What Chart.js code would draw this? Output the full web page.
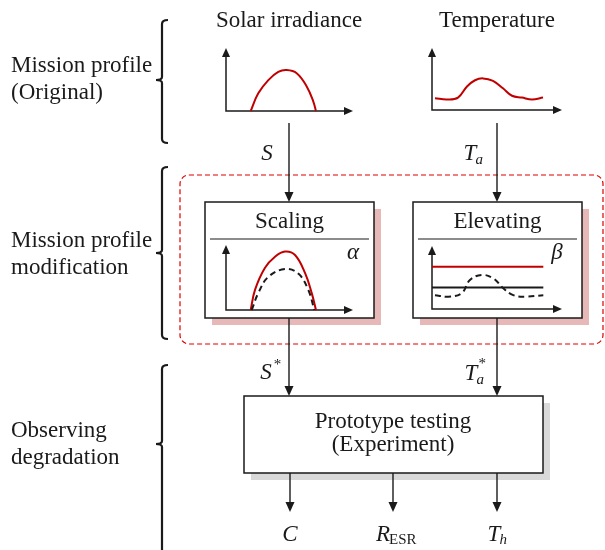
<!DOCTYPE html>
<html lang="en">
<head>
<meta charset="utf-8" />
<title>Mission profile based testing</title>
<script src="https://cdn.jsdelivr.net/npm/chart.js"></script>
<style>
    html, body { margin: 0; padding: 0; background: #fff; }
    #wrap { position: relative; width: 605px; height: 550px; }
    #wrap canvas { position: absolute; }
</style>
</head>
<body>
<div id="wrap">
    <canvas id="base" width="605" height="550" style="left:0;top:0"></canvas>
</div>
<script>
    // mission profile curves, hour of day vs normalised level
    var solarHours = [4.67, 6.1, 8.0, 9.88, 11.47, 13.36, 15.25, 16.5, 17.0];
    var solarValues = [0, 0.28, 0.49, 0.62, 0.65, 0.60, 0.39, 0.15, 0];

    var tempHours = [0.55, 2.77, 4.8, 6.46, 7.94, 9.42, 11.26, 13.1, 14.77, 16.6, 18.46, 20.5];
    var tempValues = [0.19, 0.17, 0.20, 0.38, 0.48, 0.51, 0.47, 0.35, 0.23, 0.20, 0.17, 0.20];

    // scaling: S* (red) against the original S (dashed)
    var scaledHours = [4.67, 5.48, 7.37, 9.26, 11.15, 13.04, 14.93, 16.2, 17.0];
    var scaledValues = [0, 0.31, 0.65, 0.82, 0.90, 0.846, 0.57, 0.26, 0];
    var scaleRefHours = [4.86, 6.1, 8.0, 11.15, 13.66, 15.55, 16.69];
    var scaleRefValues = [0, 0.26, 0.51, 0.63, 0.56, 0.31, 0];

    // elevating: T* (red), mean level (black), original Ta (dashed)
    var elevHours = [0, 20.55];
    var elevatedValues = [0.67, 0.67];
    var meanValues = [0.34, 0.34];
    var elevRefHours = [0.55, 3.0, 5.48, 7.0, 9.17, 11.3, 13.16, 15.0, 17.2, 20.55];
    var elevRefValues = [0.22, 0.196, 0.25, 0.46, 0.54, 0.487, 0.33, 0.22, 0.196, 0.22];

    var RED = '#c00000';
    var INK = '#1a1a1a';
    var SERIF = '"Liberation Serif", "DejaVu Serif", serif';
    var FS = 23;

    function pts(xs, ys) {
        return xs.map(function (x, i) { return { x: x, y: ys[i] }; });
    }

    function arrowHead(ctx, x, y, dir) {
        // dir: 'down', 'up', 'right'
        ctx.beginPath();
        if (dir === 'down') { ctx.moveTo(x, y); ctx.lineTo(x - 4.5, y - 10); ctx.lineTo(x + 4.5, y - 10); }
        if (dir === 'up') { ctx.moveTo(x, y); ctx.lineTo(x - 4, y + 9); ctx.lineTo(x + 4, y + 9); }
        if (dir === 'right') { ctx.moveTo(x, y); ctx.lineTo(x - 9, y - 4); ctx.lineTo(x - 9, y + 4); }
        ctx.closePath();
        ctx.fill();
    }

    // small axes with arrow tips for the mini plots
    var miniAxes = {
        id: 'miniAxes',
        beforeDatasetsDraw: function (chart) {
            var a = chart.chartArea, ctx = chart.ctx;
            ctx.save();
            ctx.strokeStyle = INK;
            ctx.fillStyle = INK;
            ctx.lineWidth = 1.5;
            ctx.beginPath();
            ctx.moveTo(a.left, a.top + 6);
            ctx.lineTo(a.left, a.bottom);
            ctx.lineTo(a.right - 6, a.bottom);
            ctx.stroke();
            arrowHead(ctx, a.left, a.top, 'up');
            arrowHead(ctx, a.right, a.bottom, 'right');
            ctx.restore();
        }
    };

    function miniChart(frame, datasets) {
        var pad = 10;
        var c = document.createElement('canvas');
        c.width = frame.right - frame.left + 2 * pad;
        c.height = frame.bottom - frame.top + 2 * pad;
        c.style.left = (frame.left - pad) + 'px';
        c.style.top = (frame.top - pad) + 'px';
        document.getElementById('wrap').appendChild(c);
        return new Chart(c, {
            type: 'scatter',
            data: { datasets: datasets },
            options: {
                responsive: false,
                animation: false,
                layout: { padding: pad },
                plugins: { legend: { display: false }, tooltip: { enabled: false } },
                scales: {
                    x: { type: 'linear', min: 0, max: 24, display: false },
                    y: { type: 'linear', min: 0, max: 1, display: false }
                }
            },
            plugins: [miniAxes]
        });
    }

    function curve(xs, ys, color, dashed, width) {
        return {
            data: pts(xs, ys),
            showLine: true,
            borderColor: color,
            borderWidth: width || 2,
            borderDash: dashed ? [6, 4] : [],
            pointRadius: 0,
            tension: 0.4,
            clip: false
        };
    }

    // diagram layout (pixels of the 605 x 550 page)
    var frames = {
        solar: { left: 226, right: 353, top: 48, bottom: 111 },
        temp: { left: 432, right: 562, top: 48, bottom: 110 },
        scaling: { left: 226, right: 353, top: 245, bottom: 310 },
        elev: { left: 432, right: 562, top: 246, bottom: 309 }
    };
    var boxes = [
        { x0: 205, y0: 202, x1: 374, y1: 318, shadow: '#e6b9b8', title: 'Scaling', sym: '\u03b1', symX: 353 },
        { x0: 413, y0: 202, x1: 582, y1: 318, shadow: '#e6b9b8', title: 'Elevating', sym: '\u03b2', symX: 557 },
        { x0: 244, y0: 396, x1: 543, y1: 473, shadow: '#d9d9d9' }
    ];
    var arrows = [
        [289, 123, 202], [497, 123, 202],
        [289, 318, 396], [497, 318, 396],
        [290, 473, 512], [393, 473, 512], [497, 473, 512]
    ];
    var brackets = [[20, 80, 143], [167, 253, 339], [365, 444, 560]];

    var diagram = {
        id: 'diagram',
        afterDraw: function (chart) {
            var ctx = chart.ctx;
            var sx = chart.scales.x, sy = chart.scales.y;
            var X = function (v) { return sx.getPixelForValue(v); };
            var Y = function (v) { return sy.getPixelForValue(v); };

            function text(str, x, y, size, style, align) {
                ctx.font = (style || '') + ' ' + size + 'px ' + SERIF;
                ctx.textAlign = align || 'center';
                ctx.textBaseline = 'middle';
                ctx.fillText(str, X(x), Y(y));
                return ctx.measureText(str).width;
            }

            ctx.save();
            ctx.fillStyle = INK;
            ctx.strokeStyle = INK;

            // left column labels
            text('Mission profile', 11, 66, FS, '', 'left');
            text('(Original)', 11, 93, FS, '', 'left');
            text('Mission profile', 11, 241, FS, '', 'left');
            text('modification', 11, 268, FS, '', 'left');
            text('Observing', 11, 431, FS, '', 'left');
            text('degradation', 11, 458, FS, '', 'left');

            // braces
            ctx.lineWidth = 2.2;
            brackets.forEach(function (b) {
                var t = b[0], m = b[1], e = b[2];
                ctx.beginPath();
                ctx.moveTo(X(168), Y(t));
                ctx.quadraticCurveTo(X(162), Y(t), X(162), Y(t + 4));
                ctx.lineTo(X(162), Y(m - 3));
                ctx.quadraticCurveTo(X(162), Y(m), X(156), Y(m));
                ctx.quadraticCurveTo(X(162), Y(m), X(162), Y(m + 3));
                ctx.lineTo(X(162), Y(e - 4));
                ctx.quadraticCurveTo(X(162), Y(e), X(168), Y(e));
                ctx.stroke();
            });

            // column titles
            text('Solar irradiance', 289, 21, FS);
            text('Temperature', 497, 21, FS);

            // modification group
            ctx.save();
            ctx.strokeStyle = '#e00000';
            ctx.lineWidth = 1.2;
            ctx.setLineDash([5, 3]);
            ctx.beginPath();
            ctx.roundRect(X(180), Y(175), X(603) - X(180), Y(344) - Y(175), 9);
            ctx.stroke();
            ctx.restore();

            // boxes
            boxes.forEach(function (b) {
                var w = X(b.x1) - X(b.x0), h = Y(b.y1) - Y(b.y0);
                ctx.fillStyle = b.shadow;
                ctx.fillRect(X(b.x0) + 7, Y(b.y0) + 7, w, h);
                ctx.fillStyle = '#fff';
                ctx.fillRect(X(b.x0), Y(b.y0), w, h);
                ctx.lineWidth = 1.5;
                ctx.strokeRect(X(b.x0), Y(b.y0), w, h);
                ctx.fillStyle = INK;
                if (b.title) {
                    text(b.title, (b.x0 + b.x1) / 2, 222, FS);
                    ctx.lineWidth = 1.2;
                    ctx.beginPath();
                    ctx.moveTo(X(b.x0 + 5), Y(239));
                    ctx.lineTo(X(b.x1 - 5), Y(239));
                    ctx.stroke();
                    text(b.sym, b.symX, 253, FS, 'italic');
                }
            });
            text('Prototype testing', 393, 422, FS);
            text('(Experiment)', 393, 445, FS);

            // arrows
            ctx.lineWidth = 1.4;
            arrows.forEach(function (a) {
                ctx.beginPath();
                ctx.moveTo(X(a[0]), Y(a[1]));
                ctx.lineTo(X(a[0]), Y(a[2]) - 8);
                ctx.stroke();
                arrowHead(ctx, X(a[0]), Y(a[2]), 'down');
            });

            // signal labels
            text('S', 267, 154, FS, 'italic');
            var w = text('T', 470, 154, FS, 'italic');
            text('a', 470 + w / 2 - 1, 160, 15, 'italic', 'left');
            w = text('S', 266, 373, FS, 'italic');
            text('*', 266 + w / 2 + 2, 365, 15, '', 'left');
            w = text('T', 471, 374, FS, 'italic');
            text('a', 471 + w / 2 - 1, 380, 15, 'italic', 'left');
            text('*', 471 + w / 2 + 1, 364, 15, '', 'left');
            text('C', 290, 535, FS, 'italic');
            w = text('R', 383, 535, FS, 'italic');
            text('ESR', 383 + w / 2 - 1, 540, 15, '', 'left');
            w = text('T', 494, 535, FS, 'italic');
            text('h', 494 + w / 2 - 1, 540, 15, 'italic', 'left');

            ctx.restore();
        }
    };

    new Chart(document.getElementById('base'), {
        type: 'scatter',
        data: { datasets: [] },
        options: {
            responsive: false,
            animation: false,
            layout: { padding: 0 },
            plugins: { legend: { display: false }, tooltip: { enabled: false } },
            scales: {
                x: { type: 'linear', min: 0, max: 605, display: false },
                y: { type: 'linear', min: 0, max: 550, reverse: true, display: false }
            }
        },
        plugins: [diagram]
    });

    miniChart(frames.solar, [curve(solarHours, solarValues, RED)]);
    miniChart(frames.temp, [curve(tempHours, tempValues, RED)]);
    miniChart(frames.scaling, [
        curve(scaleRefHours, scaleRefValues, INK, true),
        curve(scaledHours, scaledValues, RED)
    ]);
    miniChart(frames.elev, [
        curve(elevHours, elevatedValues, RED),
        curve(elevHours, meanValues, INK),
        curve(elevRefHours, elevRefValues, INK, true)
    ]);
</script>
</body>
</html>
